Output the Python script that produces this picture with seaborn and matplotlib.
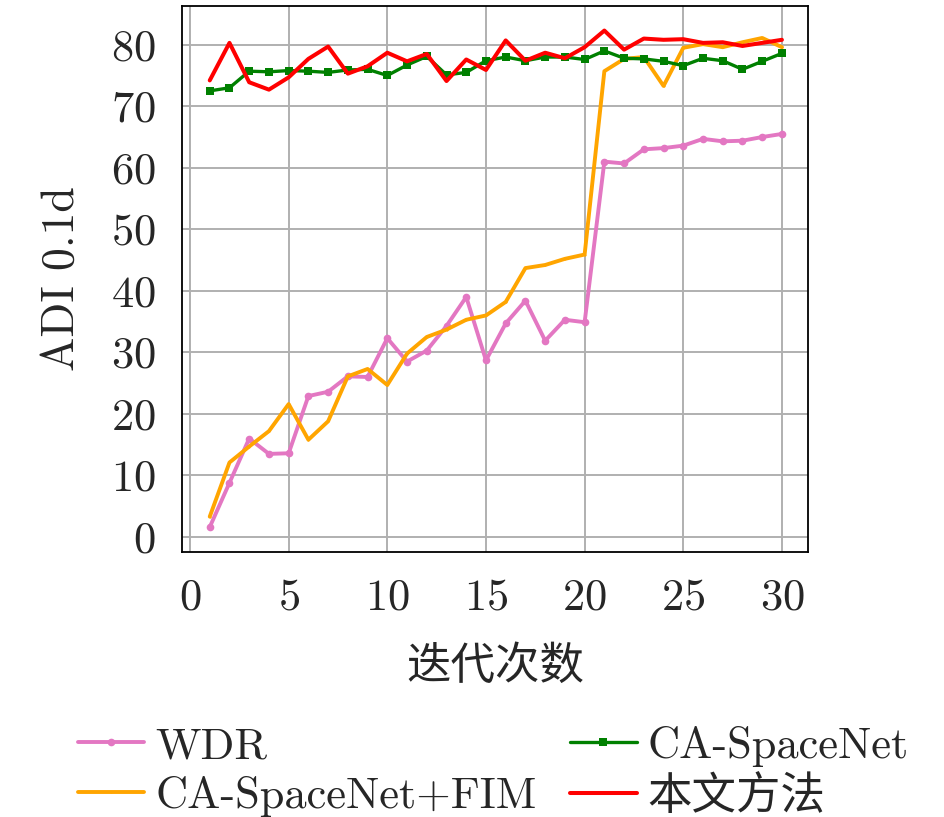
import numpy as np
import pandas as pd
import matplotlib
matplotlib.use("Agg")
import matplotlib.pyplot as plt
import seaborn as sns

# 数据
iters = list(range(1, 31))
wdr = [1.6, 8.8, 16.0, 13.5, 13.6, 22.9, 23.6, 26.1, 26.0, 32.3,
       28.5, 30.3, 34.3, 39.0, 28.7, 34.7, 38.4, 31.9, 35.3, 34.9,
       61.0, 60.7, 63.0, 63.2, 63.6, 64.7, 64.3, 64.4, 65.0, 65.5]
ca_fim = [3.3, 12.1, 14.7, 17.2, 21.6, 15.8, 18.8, 26.1, 27.3, 24.7,
          29.8, 32.5, 33.7, 35.3, 36.0, 38.2, 43.7, 44.2, 45.2, 45.9,
          75.7, 77.7, 78.0, 73.3, 79.5, 80.1, 79.6, 80.4, 81.1, 79.6]
ca_space = [72.5, 73.0, 75.7, 75.6, 75.8, 75.7, 75.5, 75.9, 76.0, 75.0,
            76.7, 78.1, 75.1, 75.5, 77.4, 78.0, 77.4, 78.0, 78.0, 77.6,
            79.0, 77.8, 77.7, 77.3, 76.6, 77.8, 77.4, 76.0, 77.3, 78.6]
ours = [74.2, 80.3, 73.9, 72.7, 74.7, 77.7, 79.7, 75.3, 76.5, 78.7,
        77.3, 78.5, 74.1, 77.6, 75.9, 80.7, 77.4, 78.7, 77.8, 79.6,
        82.3, 79.2, 81.0, 80.8, 80.9, 80.3, 80.4, 79.8, 80.3, 80.8]

labels = ['WDR', 'CA-SpaceNet+FIM', 'CA-SpaceNet', '本文方法']
series = [wdr, ca_fim, ca_space, ours]
colors = ['#e377c2', '#ffa500', '#008000', '#ff0000']
markers = ['o', '.', 's', None]
msizes = [5.5, 3, 6, 0]
lwidths = [2.8, 2.8, 2.4, 2.9]

sns.set_style('white')
plt.rcParams['font.family'] = ['cmr10', 'Noto Sans CJK SC', 'DejaVu Sans']
plt.rcParams['axes.unicode_minus'] = False
plt.rcParams['axes.formatter.use_mathtext'] = True

fig = plt.figure(figsize=(9.45, 8.17), dpi=100)
ax = fig.add_axes([0.1923, 0.3247, 0.6627, 0.668])

for lab, ys, c, m, ms, lw in zip(labels, series, colors, markers, msizes, lwidths):
    sns.lineplot(x=iters, y=ys, ax=ax, color=c, marker=m, markersize=ms,
                 markeredgewidth=0, linewidth=lw, label=lab)

ax.set_xlim(-0.42, 31.32)
ax.set_ylim(-2.4, 86.3)
ax.set_xticks([0, 5, 10, 15, 20, 25, 30])
ax.set_yticks(range(0, 81, 10))
ax.grid(True, color='#b0b0b0', linewidth=1.4)
ax.set_axisbelow(True)
for sp in ax.spines.values():
    sp.set_color('black')
    sp.set_linewidth(1.3)
ax.tick_params(axis='both', direction='in', length=6, width=1.2, color='black',
               labelsize=32, pad=19)
ax.set_xlabel('迭代次数', fontsize=32, labelpad=20)
ax.set_ylabel('ADI 0.1d', fontsize=33, labelpad=20)

ax.legend_.remove()
handles, labs = ax.get_legend_handles_labels()
fig.legend(handles, labs, ncol=2, loc='lower center', bbox_to_anchor=(0.522, -0.05),
           frameon=False, fontsize=32, handlelength=1.5, handletextpad=0.25,
           columnspacing=0.75, labelspacing=0.2)

fig.savefig('out.png', dpi=100)
